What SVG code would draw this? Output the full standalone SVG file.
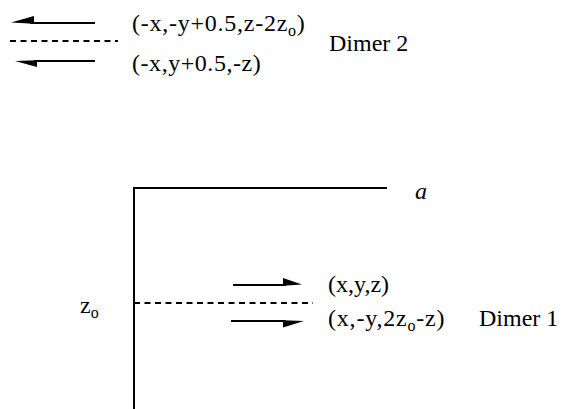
<svg xmlns="http://www.w3.org/2000/svg" width="563" height="409" viewBox="0 0 563 409">
<rect width="563" height="409" fill="#fff"/>
<g id="axes">
<path d="M134,409 V188 H387" stroke="#000" stroke-width="2" fill="none"/>
</g>
<text x="415" y="199" font-family="Liberation Serif" font-size="24" font-style="italic">a</text>
<text x="80" y="313" font-family="Liberation Serif" font-size="24">z<tspan font-size="16" dy="5">o</tspan></text>
<g id="connectors" stroke="#000" stroke-width="2" fill="none">
<line x1="30" y1="23" x2="95" y2="23"/>
<polygon points="11,22.5 34,16 34,23.8" fill="#000" stroke="none"/>
<line x1="10" y1="41" x2="118" y2="41" stroke-dasharray="6,4.5"/>
<line x1="34" y1="61" x2="95" y2="61"/>
<polygon points="15,61 37,67 37,60.2" fill="#000" stroke="none"/>
<line x1="233" y1="285" x2="286" y2="285"/>
<polygon points="302,284.5 283,278 283,285.8" fill="#000" stroke="none"/>
<line x1="134" y1="303" x2="313" y2="303" stroke-dasharray="6,4.5"/>
<line x1="231" y1="321" x2="286" y2="321"/>
<polygon points="304,321 283,327.5 283,320.2" fill="#000" stroke="none"/>
</g>
<text x="132" y="31" font-family="Liberation Serif" font-size="24" letter-spacing="0.75">(-x,-y+0.5,z-2z<tspan font-size="16" dy="5">o</tspan><tspan dy="-5">)</tspan></text>
<text x="132" y="71" font-family="Liberation Serif" font-size="24" letter-spacing="0.55">(-x,y+0.5,-z)</text>
<text x="329" y="51" font-family="Liberation Serif" font-size="24">Dimer 2</text>
<g>
<text x="328" y="292" font-family="Liberation Serif" font-size="24">(x,y,z)</text>
</g>
<g id="dimer1">
<text x="328" y="326" font-family="Liberation Serif" font-size="24" letter-spacing="0.8">(x,-y,2z<tspan font-size="16" dy="5">o</tspan><tspan dy="-5">-z)</tspan></text>
<text x="479" y="326" font-family="Liberation Serif" font-size="24">Dimer 1</text>
</g>
</svg>
